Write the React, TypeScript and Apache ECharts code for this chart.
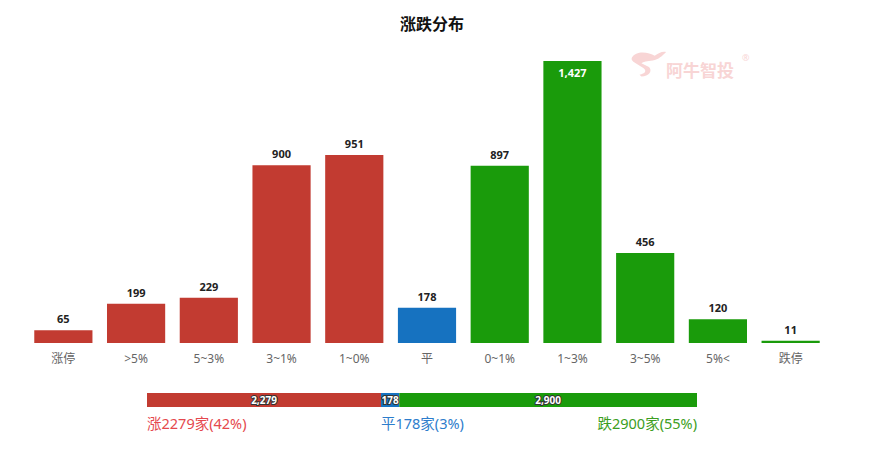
import React, { useEffect, useRef } from "react";
import * as echarts from "echarts";

const categories = ["涨停", ">5%", "5~3%", "3~1%", "1~0%", "平", "0~1%", "1~3%", "3~5%", "5%<", "跌停"];
const counts = [65, 199, 229, 900, 951, 178, 897, 1427, 456, 120, 11];
const summaryNames = ["涨", "平", "跌"];
const summaryCounts = [2279, 178, 2900];
const summaryPct = [42, 3, 55];

const RED = "#c23b31";
const BLUE = "#1672c0";
const GREEN = "#1a9b0b";
const TXT_RED = "#e5484d";
const TXT_BLUE = "#2d7dcc";
const TXT_GREEN = "#3c9e22";

function barColor(i: number) {
  if (i < 5) return RED;
  if (i === 5) return BLUE;
  return GREEN;
}

const fmt = (v: number) => v.toLocaleString("en-US");

const LOGO_D =
  "M2 8 C6 0 20 2 26 6 C30 3 34 1 38 2 C34 6 30 10 24 11 C18 12 14 12 12 14 L20 18 C24 22 20 28 12 28 L10 26 C16 25 18 22 14 19 L6 14 C2 12 1 10 2 8 Z";

let registered = false;

export default function App() {
  const ref = useRef<HTMLDivElement>(null);
  useEffect(() => {
    if (!ref.current) return;
    if (!registered) {
      echarts.graphic.registerShape("logo", echarts.graphic.extendPath(LOGO_D, {}));
      registered = true;
    }
    const chart = echarts.init(ref.current, undefined, { renderer: "svg" });
    const total = summaryCounts.reduce((a, b) => a + b, 0);
    const sLeft = 147;
    const sWidth = 550;
    const maxVal = Math.max(...counts);
    const maxIdx = counts.indexOf(maxVal);
    const font = '"Noto Sans", "Noto Sans CJK SC", sans-serif';

    const option: any = {
      animation: false,
      textStyle: { fontFamily: font },
      title: {
        text: "涨跌分布",
        left: 427,
        top: 11,
        textAlign: "center",
        textStyle: { fontSize: 16, fontWeight: "bold", color: "#111", fontFamily: font },
      },
      grid: [
        { left: 27, right: 46, top: 61, bottom: 110 },
        { left: sLeft, width: sWidth, top: 393, height: 14 },
      ],
      xAxis: [
        {
          type: "category",
          gridIndex: 0,
          data: categories,
          axisLine: { show: false },
          axisTick: { show: false },
          axisLabel: { color: "#666", fontSize: 12, margin: 9, interval: 0 },
        },
        {
          type: "value",
          gridIndex: 1,
          min: 0,
          max: total,
          show: false,
        },
      ],
      yAxis: [
        { type: "value", gridIndex: 0, min: 0, max: maxVal, show: false },
        { type: "category", gridIndex: 1, data: ["s"], show: false },
      ],
      series: [
        {
          type: "bar",
          xAxisIndex: 0,
          yAxisIndex: 0,
          barWidth: "80%",
          data: counts.map((v, i) => ({
            value: v,
            label:
              i === maxIdx
                ? { position: "insideTop", color: "#fff", distance: 6 }
                : undefined,
          })),
          itemStyle: { color: (p: any) => barColor(p.dataIndex) },
          label: {
            show: true,
            position: "top",
            distance: 6,
            color: "#222",
            fontSize: 11,
            fontWeight: "bold",
            formatter: (p: any) => fmt(p.value),
          },
        },
        ...summaryCounts.map((v, i) => ({
          type: "bar",
          xAxisIndex: 1,
          yAxisIndex: 1,
          stack: "sum",
          barWidth: 14,
          data: [v],
          itemStyle: { color: [RED, BLUE, GREEN][i] },
          label: {
            show: true,
            position: "inside",
            color: "#fff",
            fontSize: 10,
            fontWeight: "bold",
            textBorderColor: "#333",
            textBorderWidth: 2,
            formatter: (p: any) => fmt(p.value),
          },
        })),
      ],
      graphic: [
        {
          type: "logo",
          x: 630,
          y: 50,
          scaleX: 0.95,
          scaleY: 0.95,
          style: { fill: "#f8d5d5" },
          silent: true,
        },
        {
          type: "text",
          x: 666,
          y: 61,
          silent: true,
          style: {
            text: "阿牛智投",
            fill: "#f8d5d5",
            font: 'bold 17px "Noto Sans CJK SC", sans-serif',
          },
        },
        {
          type: "text",
          x: 742,
          y: 53,
          silent: true,
          style: { text: "®", fill: "#f8d5d5", font: '9px "Noto Sans", sans-serif' },
        },
        {
          type: "text",
          x: sLeft,
          y: 416,
          style: {
            text: `${summaryNames[0]}${summaryCounts[0]}家(${summaryPct[0]}%)`,
            fill: TXT_RED,
            font: `14.5px ${font}`,
          },
        },
        {
          type: "text",
          x: sLeft + (sWidth * summaryCounts[0]) / total,
          y: 416,
          style: {
            text: `${summaryNames[1]}${summaryCounts[1]}家(${summaryPct[1]}%)`,
            fill: TXT_BLUE,
            font: `14.5px ${font}`,
          },
        },
        {
          type: "text",
          x: sLeft + sWidth,
          y: 416,
          style: {
            text: `${summaryNames[2]}${summaryCounts[2]}家(${summaryPct[2]}%)`,
            fill: TXT_GREEN,
            align: "right",
            font: `14.5px ${font}`,
          },
        },
      ],
    };
    chart.setOption(option);
    return () => chart.dispose();
  }, []);
  return <div ref={ref} style={{ width: 873, height: 453, position: "absolute", left: 0, top: 0 }} />;
}
